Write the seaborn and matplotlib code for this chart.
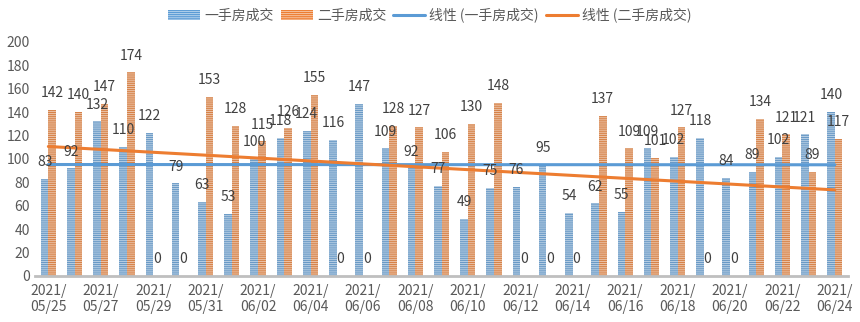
import numpy as np
import pandas as pd
import matplotlib
matplotlib.use("Agg")
import matplotlib.pyplot as plt
import seaborn as sns
from matplotlib.patches import Patch
from matplotlib.lines import Line2D

dates = ["05/25", "05/26", "05/27", "05/28", "05/29", "05/30", "05/31",
         "06/01", "06/02", "06/03", "06/04", "06/05", "06/06", "06/07",
         "06/08", "06/09", "06/10", "06/11", "06/12", "06/13", "06/14",
         "06/15", "06/16", "06/17", "06/18", "06/19", "06/20", "06/21",
         "06/22", "06/23", "06/24"]
new_homes = [83, 92, 132, 110, 122, 79, 63, 53, 100, 118, 124, 116, 147, 109,
             92, 77, 49, 75, 76, 95, 54, 62, 55, 109, 102, 118, 84, 89, 102,
             121, 140]
resale_homes = [142, 140, 147, 174, 0, 0, 153, 128, 115, 126, 155, 0, 0, 128,
                127, 106, 130, 148, 0, 0, 0, 137, 109, 101, 127, 0, 0, 134,
                121, 89, 117]
series_names = ["一手房成交", "二手房成交"]
trend_names = ["线性 (一手房成交)", "线性 (二手房成交)"]
yticks = list(range(0, 201, 20))

BLUE = "#5B9BD5"
ORANGE = "#ED7D31"
TEXT = "#595959"

sns.set_theme(style="white")
plt.rcParams['font.family'] = ['Noto Sans CJK SC', 'DejaVu Sans']
plt.rcParams['hatch.linewidth'] = 0.75

labels = ["2021/\n" + d for d in dates]
df = pd.DataFrame({
    "date": labels * 2,
    "value": new_homes + resale_homes,
    "series": [series_names[0]] * len(dates) + [series_names[1]] * len(dates),
})

fig = plt.figure(figsize=(8.6, 3.22), dpi=100)
ax = fig.add_axes([0.041, 0.143, 0.945, 0.727])

sns.barplot(data=df, x="date", y="value", hue="series", order=labels,
            hue_order=series_names, palette=[BLUE, ORANGE], width=0.58,
            ax=ax, legend=False, errorbar=None)

hatch_ec = (1, 1, 1, 0.5)
for cont in ax.containers:
    for p in cont:
        p.set_hatch("--------")
        p.set_edgecolor(hatch_ec)
        p.set_linewidth(0)

# data labels
for cont in ax.containers:
    for p in cont:
        h = p.get_height()
        ax.annotate(f"{int(round(h))}", (p.get_x() + p.get_width() / 2, h),
                    xytext=(0, 7), textcoords="offset points",
                    ha="center", va="bottom", fontsize=10, color="#404040")

# linear trend lines
idx = np.arange(len(dates))
for vals, col in [(new_homes, BLUE), (resale_homes, ORANGE)]:
    sns.regplot(x=idx, y=np.array(vals, dtype=float), scatter=False, ci=None,
                truncate=True, color=col, line_kws={"linewidth": 2.2}, ax=ax)

ax.set_xlim(-0.5, len(dates) - 0.5)
ax.set_ylim(0, 200)
ax.set_yticks(yticks)
ax.set_xticks(idx[::2])
ax.set_xticklabels([labels[i] for i in idx[::2]])
ax.tick_params(axis="both", length=0, labelsize=10, colors=TEXT, pad=6)
ax.tick_params(axis="y", pad=4)
ax.set_xlabel("")
ax.set_ylabel("")
for s in ["left", "right", "top"]:
    ax.spines[s].set_visible(False)
ax.spines["bottom"].set_color("#BFBFBF")
ax.spines["bottom"].set_linewidth(2)
ax.grid(False)

handles = [
    Patch(facecolor=BLUE, edgecolor=hatch_ec, hatch="--------", linewidth=0),
    Patch(facecolor=ORANGE, edgecolor=hatch_ec, hatch="--------", linewidth=0),
    Line2D([0], [0], color=BLUE, linewidth=2.2),
    Line2D([0], [0], color=ORANGE, linewidth=2.2),
]
fig.legend(handles, series_names + trend_names, loc="center",
           bbox_to_anchor=(0.5, 0.953), ncol=4, frameon=False, fontsize=10,
           labelcolor=TEXT, handlelength=2.3, handleheight=0.7,
           handletextpad=0.3, columnspacing=0.5)

fig.savefig("out.png", dpi=100)
